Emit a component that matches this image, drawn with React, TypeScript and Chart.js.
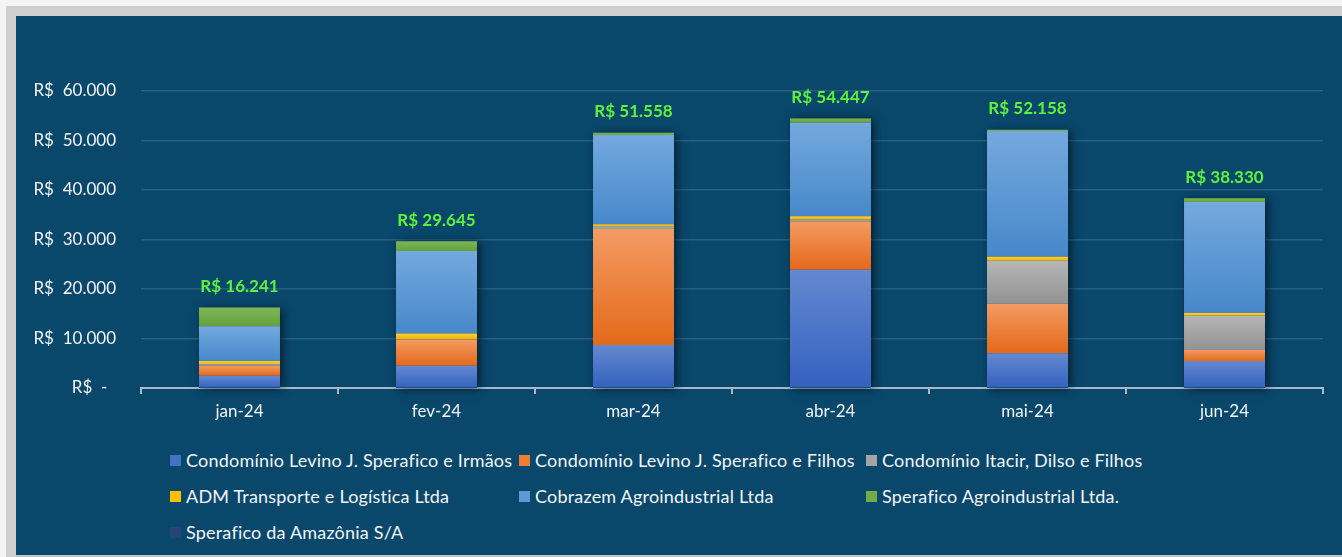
import React, { useEffect, useRef } from "react";
import { Chart, registerables } from "chart.js";

Chart.register(...registerables);

const categories = ["jan-24", "fev-24", "mar-24", "abr-24", "mai-24", "jun-24"];

const seriesNames = [
  "Condomínio Levino J. Sperafico e Irmãos",
  "Condomínio Levino J. Sperafico e Filhos",
  "Condomínio Itacir, Dilso e Filhos",
  "ADM Transporte e Logística Ltda",
  "Cobrazem Agroindustrial Ltda",
  "Sperafico Agroindustrial Ltda.",
  "Sperafico da Amazônia S/A",
];

const irmaos = [2500, 4500, 8700, 23900, 7000, 5450];
const filhos = [2000, 5300, 23400, 9800, 10000, 2250];
const itacir = [300, 100, 600, 350, 8700, 6900];
const adm = [650, 1100, 400, 650, 800, 550];
const cobrazem = [7050, 16700, 18000, 18900, 25400, 22450];
const speraficoAgro = [3741, 1945, 458, 847, 258, 730];
const amazonia = [0, 0, 0, 0, 0, 0];

const seriesValues = [irmaos, filhos, itacir, adm, cobrazem, speraficoAgro, amazonia];

const yTicks = [0, 10000, 20000, 30000, 40000, 50000, 60000];

const solidColors = ["#4472c4", "#ed7d31", "#a5a5a5", "#ffc000", "#5b9bd5", "#70ad47", "#264478"];
const gradTop = ["#6489d1", "#f39b63", "#b6b6b6", "#ffd22e", "#74a9de", "#7db757", "#30508a"];
const gradBottom = ["#3461be", "#e4691a", "#929292", "#f2b300", "#4788ca", "#65a13c", "#1e3866"];

const PANEL = "#09476b";
const FONT = "Lato, 'Open Sans', sans-serif";

const fmt = (n: number) => String(Math.round(n)).replace(/\B(?=(\d{3})+(?!\d))/g, ".");

export default function App() {
  const canvasRef = useRef<HTMLCanvasElement | null>(null);

  useEffect(() => {
    const canvas = canvasRef.current;
    if (!canvas) return;

    const totals = categories.map((_, i) => seriesValues.reduce((s, arr) => s + arr[i], 0));

    const makeBg = (si: number) => (ctx: any) => {
      if (ctx.type !== "data") return solidColors[si];
      const chart = ctx.chart;
      const y = chart.scales && chart.scales.y;
      const i = ctx.dataIndex;
      const v = seriesValues[si][i];
      if (!y || !v) return solidColors[si];
      let start = 0;
      for (let k = 0; k < si; k++) start += seriesValues[k][i];
      const top = y.getPixelForValue(start + v);
      const bot = y.getPixelForValue(start);
      if (!isFinite(top) || !isFinite(bot) || bot - top < 1) return solidColors[si];
      const g = chart.ctx.createLinearGradient(0, top, 0, bot);
      g.addColorStop(0, gradTop[si]);
      g.addColorStop(1, gradBottom[si]);
      return g;
    };

    const shadowPlugin = {
      id: "barShadow",
      beforeDatasetsDraw(chart: any) {
        const meta = chart.getDatasetMeta(0);
        const c = chart.ctx;
        const y = chart.scales.y;
        c.save();
        c.shadowColor = "rgba(0,0,0,0.55)";
        c.shadowBlur = 9;
        c.shadowOffsetX = 3;
        c.shadowOffsetY = 1;
        c.fillStyle = PANEL;
        meta.data.forEach((el: any, i: number) => {
          const w = el.width;
          const top = y.getPixelForValue(totals[i]);
          const base = y.getPixelForValue(0);
          c.fillRect(el.x - w / 2, top, w, base - top);
        });
        c.restore();
      },
    };

    const totalLabels = {
      id: "totalLabels",
      afterDatasetsDraw(chart: any) {
        const c = chart.ctx;
        const x = chart.scales.x;
        const y = chart.scales.y;
        c.save();
        c.font = `bold 17px ${FONT}`;
        c.fillStyle = "#5ef23c";
        c.textAlign = "center";
        c.textBaseline = "middle";
        totals.forEach((t, i) => {
          c.fillText(`R$ ${fmt(t)}`, x.getPixelForValue(i), y.getPixelForValue(t) - 21);
        });
        c.restore();
      },
    };

    const chart = new Chart(canvas, {
      type: "bar",
      data: {
        labels: categories,
        datasets: seriesNames.map((name, si) => ({
          label: name,
          data: seriesValues[si],
          backgroundColor: makeBg(si),
          borderWidth: 0,
          barPercentage: 0.411,
          categoryPercentage: 1,
        })),
      },
      options: {
        responsive: false,
        animation: false,
        devicePixelRatio: 1,
        layout: { padding: { left: 0, right: 19, top: 75, bottom: 0 } },
        plugins: {
          legend: { display: false },
          tooltip: { enabled: false },
        },
        scales: {
          x: {
            stacked: true,
            z: 1,
            afterFit: (s: any) => {
              s.height = 48;
            },
            grid: {
              offset: true,
              drawOnChartArea: false,
              drawTicks: true,
              tickLength: 6,
              color: "#a9b9c6",
              lineWidth: 2,
            },
            border: { display: true, color: "#a9b9c6", width: 2 },
            ticks: {
              color: "#f4f6f8",
              font: { family: FONT, size: 17 },
              padding: 7,
            },
          },
          y: {
            stacked: true,
            min: 0,
            max: 60000,
            afterFit: (s: any) => {
              s.width = 125;
            },
            afterBuildTicks: (s: any) => {
              s.ticks = yTicks.map((v) => ({ value: v }));
            },
            border: { display: false },
            grid: {
              color: (ctx: any) => (ctx.tick && ctx.tick.value === 0 ? "rgba(0,0,0,0)" : "#2a5e80"),
              lineWidth: 1.5,
              drawTicks: false,
            },
            ticks: {
              color: "#f4f6f8",
              font: { family: FONT, size: 17 },
              padding: 25,
              callback: (v: any) =>
                Number(v) === 0 ? "R$\u00A0\u00A0-\u00A0\u00A0" : `R$\u00A0\u00A0${fmt(Number(v))}`,
            },
          },
        },
      },
      plugins: [shadowPlugin, totalLabels],
    });

    return () => chart.destroy();
  }, []);

  const legendCols = [170, 519, 866];
  const legendRows = [460, 496, 532];

  return (
    <div
      style={{
        position: "absolute",
        left: 0,
        top: 0,
        width: 1342,
        height: 557,
        background: "#f4f4f4",
        overflow: "hidden",
      }}
    >
      <div
        style={{
          position: "absolute",
          left: 6,
          top: 6,
          width: 1336,
          height: 551,
          background: "#d0cece",
        }}
      />
      <div
        style={{
          position: "absolute",
          left: 16,
          top: 16,
          width: 1326,
          height: 539,
          background: PANEL,
        }}
      />
      <div style={{ position: "absolute", left: 16, top: 555, width: 1326, height: 2, background: "#b8c6d0" }} />
      <canvas
        ref={canvasRef}
        width={1326}
        height={420}
        style={{ position: "absolute", left: 16, top: 16, width: 1326, height: 420 }}
      />
      {seriesNames.map((name, si) => {
        const col = si % 3;
        const row = Math.floor(si / 3);
        return (
          <div
            key={name}
            style={{
              position: "absolute",
              left: legendCols[col],
              top: legendRows[row] - 12,
              height: 24,
              display: "flex",
              alignItems: "center",
              whiteSpace: "nowrap",
              fontFamily: FONT,
              fontSize: 18,
              letterSpacing: 0.2,
              color: "#f4f6f8",
            }}
          >
            <span
              style={{
                display: "inline-block",
                width: 11,
                height: 11,
                background: solidColors[si],
                marginRight: 5,
              }}
            />
            <span>{name}</span>
          </div>
        );
      })}
    </div>
  );
}
